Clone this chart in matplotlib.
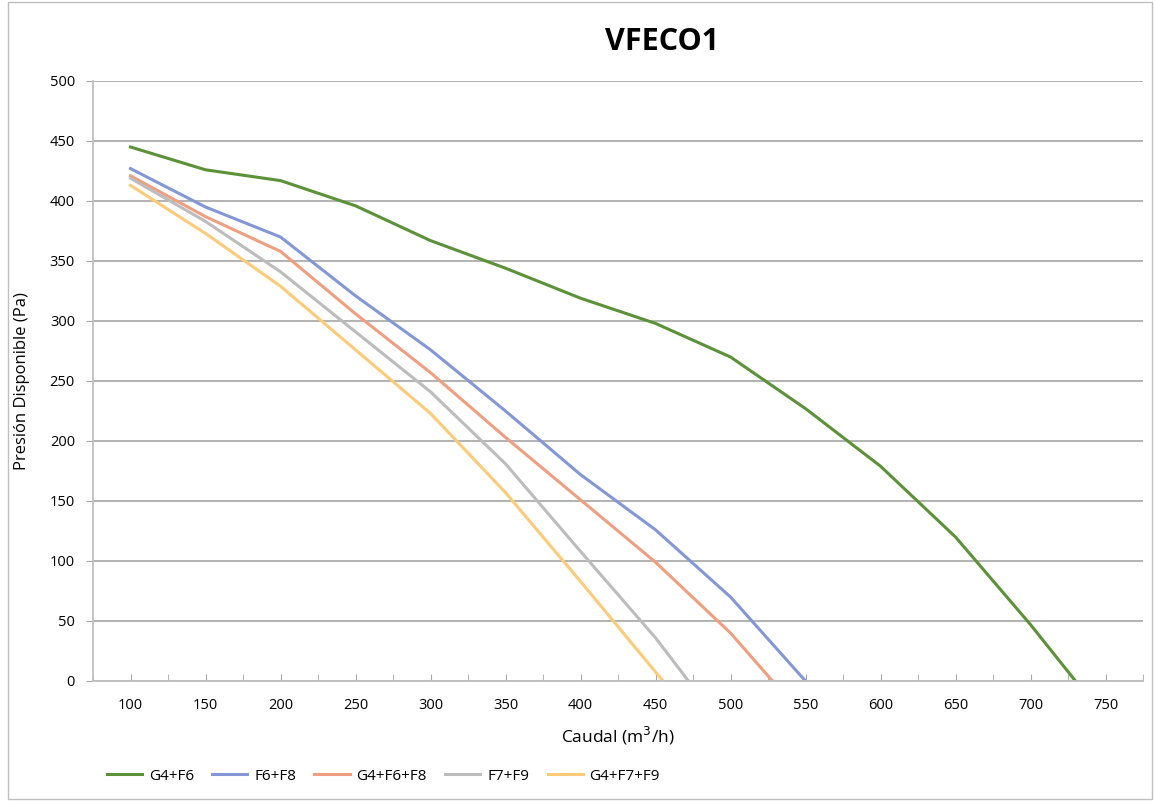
import matplotlib.pyplot as plt
from matplotlib.ticker import MultipleLocator

plt.rcParams['font.family'] = ['Open Sans', 'DejaVu Sans']

# caudal (m3/h) and presion (Pa) for each filter combination
g4f6_x = [100, 150, 200, 250, 300, 350, 400, 450, 500, 550, 600, 650, 700, 730]
g4f6_y = [445, 426, 417, 396, 367, 344, 319, 298, 270, 227, 179, 120, 47, 0]

f6f8_x = [100, 150, 200, 250, 300, 350, 400, 450, 500, 550]
f6f8_y = [427, 395, 370, 321, 276, 225, 172, 126, 70, 0]

g4f6f8_x = [100, 150, 200, 250, 300, 350, 400, 450, 500, 528]
g4f6f8_y = [421, 387, 358, 306, 257, 203, 151, 99, 40, 0]

f7f9_x = [100, 150, 200, 250, 300, 350, 400, 450, 472]
f7f9_y = [419, 383, 341, 291, 241, 181, 108, 36, 0]

g4f7f9_x = [100, 150, 200, 250, 300, 350, 400, 455]
g4f7f9_y = [413, 373, 329, 276, 223, 157, 83, 0]

series = [
    ('G4+F6', g4f6_x, g4f6_y, '#5b9237'),
    ('F6+F8', f6f8_x, f6f8_y, '#8397d6'),
    ('G4+F6+F8', g4f6f8_x, g4f6f8_y, '#ef9f80'),
    ('F7+F9', f7f9_x, f7f9_y, '#bcbcbc'),
    ('G4+F7+F9', g4f7f9_x, g4f7f9_y, '#fdcb78'),
]

fig = plt.figure(figsize=(11.55, 8.01), dpi=100)
ax = fig.add_axes([93/1155, 120/801, 1050/1155, 600/801])

for name, x, y, c in series:
    ax.plot(x, y, color=c, lw=2.2, label=name, solid_joinstyle='round')

ax.set_xlim(75, 775)
ax.set_ylim(0, 500)
ax.set_xticks(range(100, 751, 50))
ax.xaxis.set_minor_locator(MultipleLocator(25))
ax.set_yticks(range(0, 501, 50))
ax.yaxis.grid(True, color='#a6a6a6', lw=1.2)
ax.set_axisbelow(True)

for s in ['top', 'right']:
    ax.spines[s].set_visible(False)
for s in ['left', 'bottom']:
    ax.spines[s].set_color('#bfbfbf')
    ax.spines[s].set_linewidth(1.3)

ax.tick_params(axis='x', which='both', direction='in', length=5, color='#a6a6a6',
               labelsize=10.5, pad=12)
ax.tick_params(axis='y', labelsize=10.5, length=5, direction='out', color='#a6a6a6', pad=8)

ax.set_xlabel('Caudal (m$^3$/h)', fontsize=12.5)
ax.xaxis.set_label_coords(0.5, -0.073)
ax.set_ylabel('Presión Disponible (Pa)', fontsize=12)
ax.yaxis.set_label_coords(-0.06, 0.5)

fig.text(0.573, 0.948, 'VFECO1', fontsize=22, fontweight='bold', ha='center', va='center')

fig.legend(loc='center left', bbox_to_anchor=(93/1155, 25/801), ncol=5, frameon=False,
           fontsize=11, handlelength=2.3, columnspacing=1.2, handletextpad=0.45)

border = plt.Rectangle((8/1155, 0.002), 1144/1155, 0.996, transform=fig.transFigure,
                       fill=False, edgecolor='#bfbfbf', lw=1)
fig.add_artist(border)

fig.savefig('out.png', dpi=100)
